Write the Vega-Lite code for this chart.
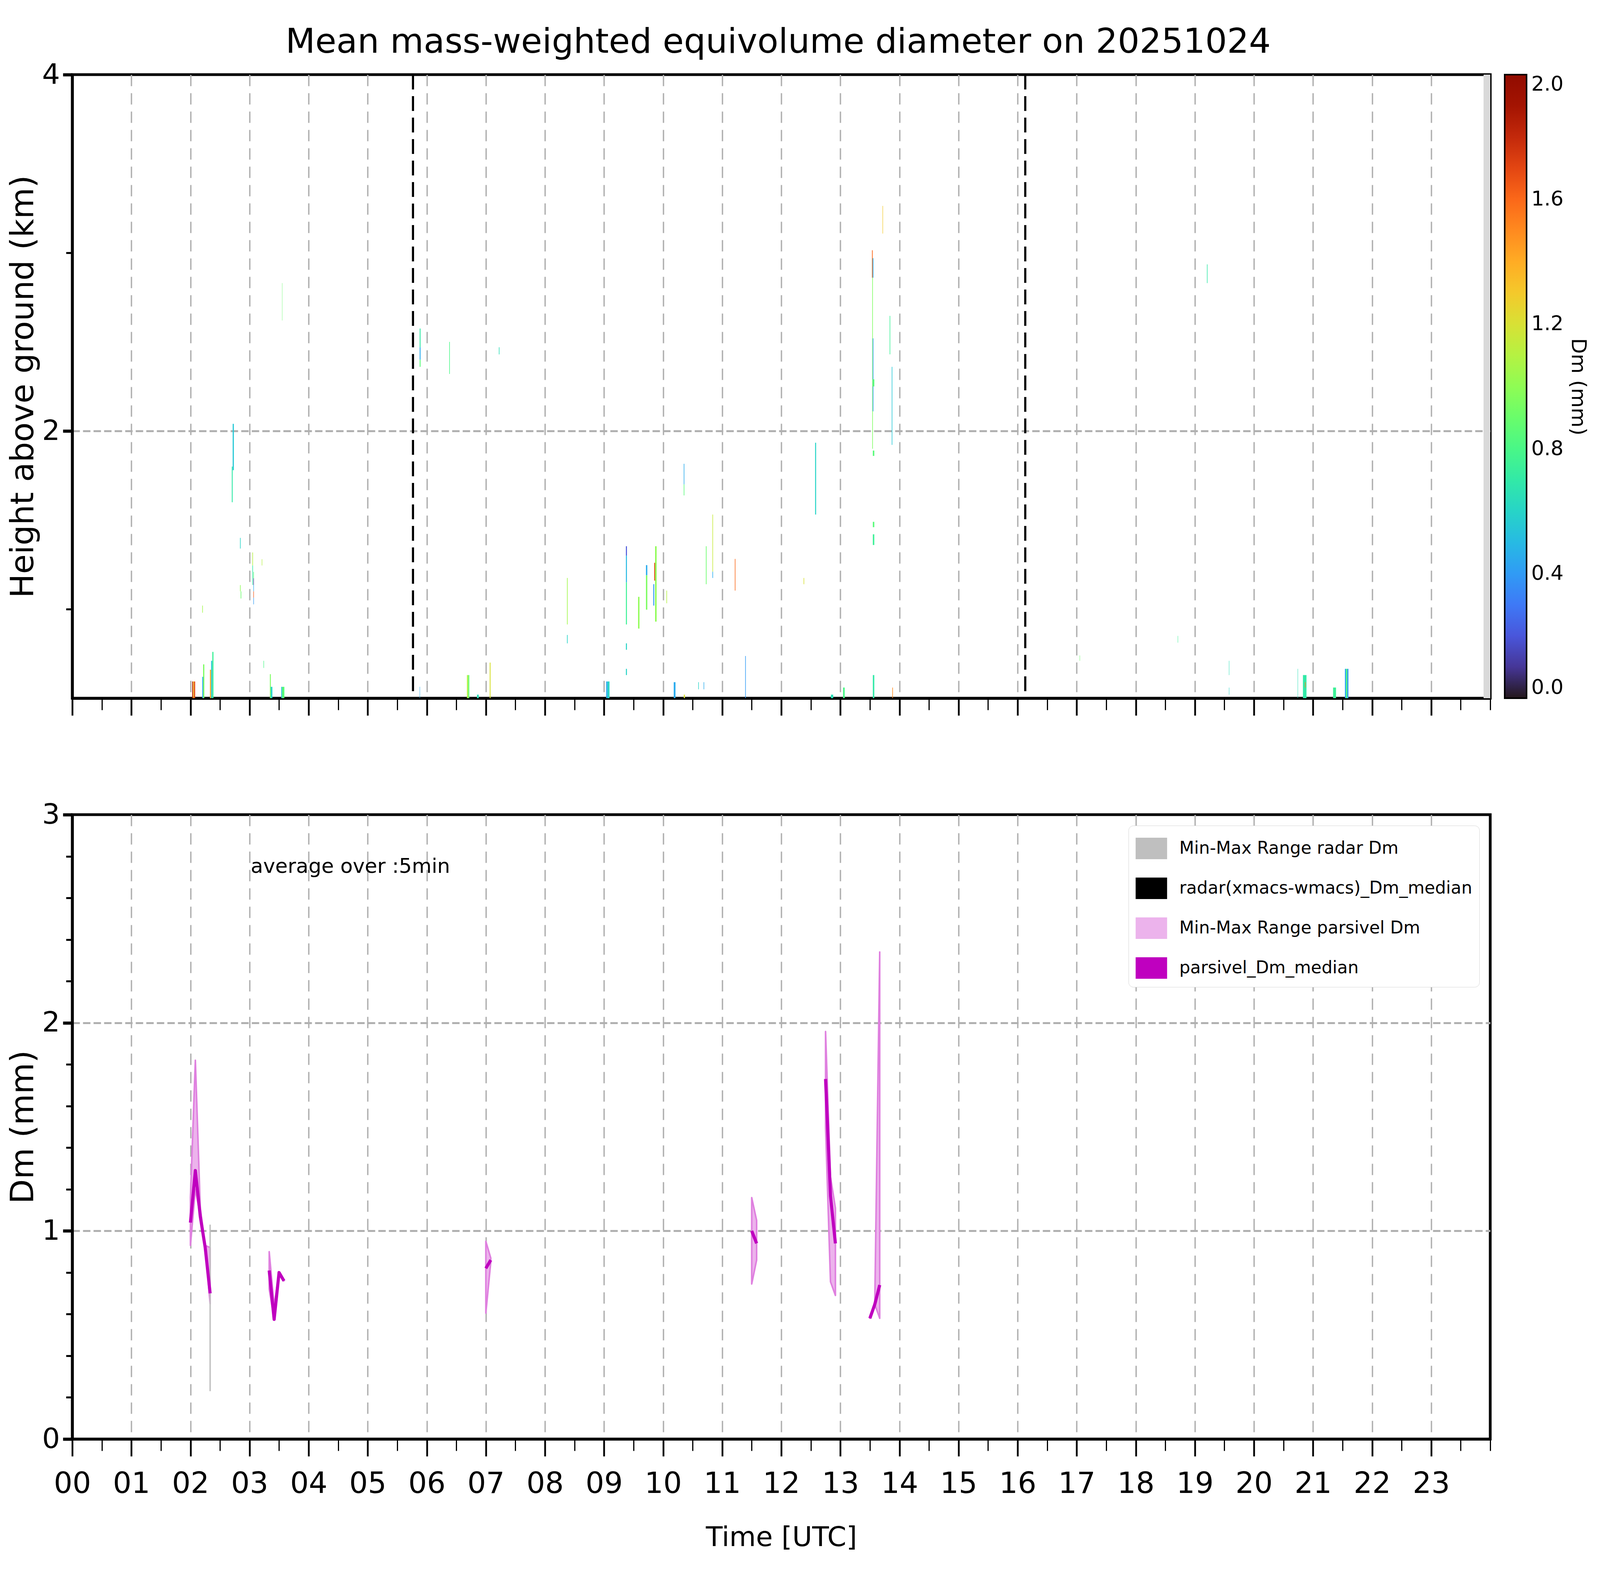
{
  "$schema": "https://vega.github.io/schema/vega-lite/v6.json",
  "background": "white",
  "padding": {"left": 14, "top": 64, "right": 10, "bottom": 0},
  "title": {"text": "Mean mass-weighted equivolume diameter on 20251024", "fontSize": 88, "fontWeight": "normal", "anchor": "middle", "offset": -1, "dx": -50, "color": "black"},
  "datasets": {
    "radar": [
      {"t0": 2.030, "t1": 2.045, "h0": 0.5, "h1": 0.594, "dm": 1.85},
      {"t0": 2.045, "t1": 2.060, "h0": 0.5, "h1": 0.594, "dm": 1.30},
      {"t0": 2.060, "t1": 2.080, "h0": 0.5, "h1": 0.594, "dm": 1.70},
      {"t0": 2.200, "t1": 2.215, "h0": 0.5, "h1": 0.62, "dm": 0.45},
      {"t0": 2.215, "t1": 2.235, "h0": 0.5, "h1": 0.69, "dm": 0.95},
      {"t0": 2.200, "t1": 2.210, "h0": 0.98, "h1": 1.02, "dm": 1.05},
      {"t0": 2.330, "t1": 2.350, "h0": 0.5, "h1": 0.66, "dm": 1.40},
      {"t0": 2.350, "t1": 2.370, "h0": 0.5, "h1": 0.71, "dm": 0.55},
      {"t0": 2.370, "t1": 2.390, "h0": 0.5, "h1": 0.76, "dm": 0.75},
      {"t0": 2.700, "t1": 2.715, "h0": 1.60, "h1": 1.80, "dm": 0.70},
      {"t0": 2.715, "t1": 2.735, "h0": 1.78, "h1": 2.04, "dm": 0.55},
      {"t0": 2.840, "t1": 2.850, "h0": 1.34, "h1": 1.40, "dm": 0.60},
      {"t0": 2.850, "t1": 2.860, "h0": 1.06, "h1": 1.10, "dm": 0.90},
      {"t0": 2.840, "t1": 2.850, "h0": 1.10, "h1": 1.135, "dm": 1.00},
      {"t0": 3.048, "t1": 3.058, "h0": 1.245, "h1": 1.318, "dm": 1.10},
      {"t0": 3.048, "t1": 3.058, "h0": 1.136, "h1": 1.245, "dm": 0.70},
      {"t0": 3.066, "t1": 3.074, "h0": 1.173, "h1": 1.209, "dm": 0.85},
      {"t0": 3.066, "t1": 3.074, "h0": 1.136, "h1": 1.173, "dm": 0.10},
      {"t0": 3.066, "t1": 3.074, "h0": 1.100, "h1": 1.136, "dm": 0.45},
      {"t0": 3.066, "t1": 3.074, "h0": 1.064, "h1": 1.100, "dm": 1.65},
      {"t0": 3.066, "t1": 3.074, "h0": 1.027, "h1": 1.064, "dm": 0.40},
      {"t0": 3.207, "t1": 3.215, "h0": 1.245, "h1": 1.28, "dm": 1.10},
      {"t0": 3.237, "t1": 3.245, "h0": 0.67, "h1": 0.71, "dm": 0.80},
      {"t0": 3.345, "t1": 3.360, "h0": 0.5, "h1": 0.635, "dm": 0.95},
      {"t0": 3.360, "t1": 3.387, "h0": 0.5, "h1": 0.564, "dm": 0.60},
      {"t0": 3.537, "t1": 3.550, "h0": 0.5, "h1": 0.564, "dm": 0.50},
      {"t0": 3.550, "t1": 3.590, "h0": 0.5, "h1": 0.564, "dm": 0.85},
      {"t0": 3.550, "t1": 3.555, "h0": 2.62, "h1": 2.83, "dm": 0.90},
      {"t0": 5.880, "t1": 5.886, "h0": 0.5, "h1": 0.564, "dm": 0.45},
      {"t0": 5.880, "t1": 5.895, "h0": 2.47, "h1": 2.575, "dm": 0.70},
      {"t0": 5.880, "t1": 5.895, "h0": 2.40, "h1": 2.47, "dm": 0.45},
      {"t0": 5.880, "t1": 5.895, "h0": 2.36, "h1": 2.40, "dm": 0.85},
      {"t0": 6.380, "t1": 6.390, "h0": 2.32, "h1": 2.50, "dm": 0.80},
      {"t0": 7.220, "t1": 7.230, "h0": 2.43, "h1": 2.47, "dm": 0.65},
      {"t0": 6.680, "t1": 6.700, "h0": 0.5, "h1": 0.63, "dm": 1.10},
      {"t0": 6.700, "t1": 6.720, "h0": 0.5, "h1": 0.63, "dm": 0.90},
      {"t0": 6.850, "t1": 6.880, "h0": 0.5, "h1": 0.52, "dm": 0.65},
      {"t0": 7.065, "t1": 7.080, "h0": 0.5, "h1": 0.70, "dm": 1.20},
      {"t0": 8.374, "t1": 8.385, "h0": 0.914, "h1": 1.175, "dm": 1.05},
      {"t0": 8.374, "t1": 8.385, "h0": 0.808, "h1": 0.855, "dm": 0.60},
      {"t0": 9.037, "t1": 9.060, "h0": 0.5, "h1": 0.594, "dm": 0.45},
      {"t0": 9.060, "t1": 9.093, "h0": 0.5, "h1": 0.594, "dm": 0.60},
      {"t0": 9.371, "t1": 9.388, "h0": 1.30, "h1": 1.353, "dm": 0.20},
      {"t0": 9.371, "t1": 9.388, "h0": 1.15, "h1": 1.30, "dm": 0.50},
      {"t0": 9.371, "t1": 9.388, "h0": 0.914, "h1": 1.15, "dm": 0.75},
      {"t0": 9.371, "t1": 9.388, "h0": 0.772, "h1": 0.808, "dm": 0.60},
      {"t0": 9.371, "t1": 9.388, "h0": 0.630, "h1": 0.665, "dm": 0.60},
      {"t0": 9.577, "t1": 9.600, "h0": 0.891, "h1": 1.069, "dm": 1.00},
      {"t0": 9.710, "t1": 9.733, "h0": 1.19, "h1": 1.247, "dm": 0.45},
      {"t0": 9.710, "t1": 9.733, "h0": 0.997, "h1": 1.19, "dm": 0.95},
      {"t0": 9.834, "t1": 9.850, "h0": 1.02, "h1": 1.14, "dm": 0.40},
      {"t0": 9.850, "t1": 9.865, "h0": 1.16, "h1": 1.26, "dm": 1.70},
      {"t0": 9.865, "t1": 9.890, "h0": 0.93, "h1": 1.353, "dm": 1.00},
      {"t0": 10.056, "t1": 10.066, "h0": 1.033, "h1": 1.104, "dm": 1.10},
      {"t0": 10.350, "t1": 10.360, "h0": 1.70, "h1": 1.816, "dm": 0.45},
      {"t0": 10.350, "t1": 10.360, "h0": 1.638, "h1": 1.70, "dm": 0.85},
      {"t0": 10.724, "t1": 10.735, "h0": 1.14, "h1": 1.353, "dm": 0.90},
      {"t0": 10.835, "t1": 10.845, "h0": 1.21, "h1": 1.531, "dm": 1.15},
      {"t0": 10.835, "t1": 10.845, "h0": 1.175, "h1": 1.21, "dm": 0.45},
      {"t0": 11.214, "t1": 11.224, "h0": 1.104, "h1": 1.282, "dm": 1.60},
      {"t0": 11.390, "t1": 11.400, "h0": 0.5, "h1": 0.737, "dm": 0.40},
      {"t0": 12.378, "t1": 12.388, "h0": 1.14, "h1": 1.175, "dm": 1.20},
      {"t0": 12.573, "t1": 12.590, "h0": 1.531, "h1": 1.934, "dm": 0.60},
      {"t0": 13.536, "t1": 13.548, "h0": 2.86, "h1": 3.014, "dm": 1.60},
      {"t0": 13.548, "t1": 13.560, "h0": 2.86, "h1": 2.97, "dm": 0.45},
      {"t0": 13.540, "t1": 13.550, "h0": 1.90, "h1": 2.86, "dm": 0.95},
      {"t0": 13.550, "t1": 13.560, "h0": 2.11, "h1": 2.52, "dm": 0.40},
      {"t0": 13.550, "t1": 13.575, "h0": 2.25, "h1": 2.29, "dm": 0.85},
      {"t0": 13.550, "t1": 13.575, "h0": 1.86, "h1": 1.89, "dm": 0.85},
      {"t0": 13.550, "t1": 13.575, "h0": 1.46, "h1": 1.49, "dm": 0.85},
      {"t0": 13.550, "t1": 13.575, "h0": 1.36, "h1": 1.42, "dm": 0.75},
      {"t0": 13.550, "t1": 13.575, "h0": 0.5, "h1": 0.63, "dm": 0.70},
      {"t0": 13.714, "t1": 13.722, "h0": 3.108, "h1": 3.263, "dm": 1.30},
      {"t0": 13.835, "t1": 13.845, "h0": 2.43, "h1": 2.646, "dm": 0.75},
      {"t0": 13.870, "t1": 13.880, "h0": 1.922, "h1": 2.36, "dm": 0.55},
      {"t0": 13.046, "t1": 13.074, "h0": 0.5, "h1": 0.56, "dm": 0.80},
      {"t0": 12.840, "t1": 12.880, "h0": 0.5, "h1": 0.52, "dm": 0.65},
      {"t0": 10.180, "t1": 10.210, "h0": 0.5, "h1": 0.59, "dm": 0.45},
      {"t0": 10.596, "t1": 10.605, "h0": 0.55, "h1": 0.59, "dm": 0.60},
      {"t0": 10.686, "t1": 10.695, "h0": 0.55, "h1": 0.59, "dm": 0.45},
      {"t0": 13.880, "t1": 13.890, "h0": 0.5, "h1": 0.56, "dm": 1.50},
      {"t0": 10.350, "t1": 10.370, "h0": 0.5, "h1": 0.52, "dm": 1.20},
      {"t0": 19.205, "t1": 19.215, "h0": 2.83, "h1": 2.935, "dm": 0.70},
      {"t0": 18.710, "t1": 18.716, "h0": 0.812, "h1": 0.85, "dm": 0.75},
      {"t0": 17.050, "t1": 17.056, "h0": 0.71, "h1": 0.74, "dm": 0.90},
      {"t0": 19.577, "t1": 19.583, "h0": 0.63, "h1": 0.71, "dm": 0.65},
      {"t0": 19.577, "t1": 19.583, "h0": 0.52, "h1": 0.56, "dm": 0.60},
      {"t0": 20.740, "t1": 20.746, "h0": 0.5, "h1": 0.665, "dm": 0.65},
      {"t0": 20.830, "t1": 20.890, "h0": 0.5, "h1": 0.63, "dm": 0.70},
      {"t0": 20.865, "t1": 20.875, "h0": 0.56, "h1": 0.59, "dm": 1.50},
      {"t0": 21.340, "t1": 21.390, "h0": 0.5, "h1": 0.56, "dm": 0.75},
      {"t0": 21.540, "t1": 21.560, "h0": 0.5, "h1": 0.665, "dm": 0.45},
      {"t0": 21.560, "t1": 21.580, "h0": 0.5, "h1": 0.665, "dm": 0.85},
      {"t0": 21.580, "t1": 21.600, "h0": 0.5, "h1": 0.665, "dm": 0.40}
    ],
    "nodata": [{"start": 23.887, "end": 24}],
    "markers": [{"t": 5.767}, {"t": 16.13}],
    "parsivel": [
      {"t": 2.0, "med": 1.04, "min": 0.93, "max": 1.16, "seg": "a"},
      {"t": 2.0833, "med": 1.29, "min": 1.20, "max": 1.82, "seg": "a"},
      {"t": 2.1667, "med": 1.07, "min": 1.07, "max": 1.11, "seg": "a"},
      {"t": 2.25, "med": 0.92, "min": 0.92, "max": 0.93, "seg": "a"},
      {"t": 2.3333, "med": 0.70, "min": 0.65, "max": 0.92, "seg": "a"},
      {"t": 3.3333, "med": 0.81, "min": 0.72, "max": 0.90, "seg": "b"},
      {"t": 3.4167, "med": 0.575, "min": 0.575, "max": 0.64, "seg": "b"},
      {"t": 3.5, "med": 0.80, "min": 0.80, "max": 0.80, "seg": "b"},
      {"t": 3.5833, "med": 0.76, "min": 0.76, "max": 0.76, "seg": "b"},
      {"t": 7.0, "med": 0.82, "min": 0.605, "max": 0.95, "seg": "c"},
      {"t": 7.0833, "med": 0.86, "min": 0.85, "max": 0.87, "seg": "c"},
      {"t": 11.5, "med": 1.00, "min": 0.745, "max": 1.16, "seg": "d"},
      {"t": 11.5833, "med": 0.94, "min": 0.86, "max": 1.05, "seg": "d"},
      {"t": 12.75, "med": 1.73, "min": 1.495, "max": 1.958, "seg": "e"},
      {"t": 12.8333, "med": 1.168, "min": 0.756, "max": 1.26, "seg": "e"},
      {"t": 12.9167, "med": 0.94, "min": 0.69, "max": 1.11, "seg": "e"},
      {"t": 13.5, "med": 0.58, "min": 0.58, "max": 0.58, "seg": "f"},
      {"t": 13.5833, "med": 0.647, "min": 0.647, "max": 0.66, "seg": "f"},
      {"t": 13.6667, "med": 0.74, "min": 0.58, "max": 2.34, "seg": "f"}
    ],
    "radarRange": [{"t": 2.3333, "min": 0.23, "max": 1.03}],
    "notes": [{"note": "average over :5min"}]
  },
  "spacing": 208,
  "resolve": {"scale": {"color": "independent"}, "legend": {"color": "independent"}},
  "vconcat": [
    {
      "width": 3630,
      "height": 1596,
      "layer": [
        {
          "data": {"name": "nodata"},
          "mark": {"type": "rect", "color": "#d9d9d9"},
          "encoding": {
            "x": {"field": "start", "type": "quantitative", "scale": {"domain": [0, 24], "nice": false, "zero": false},
              "axis": {"title": null, "labels": false, "gridDash": [29, 18], "gridWidth": 3.5,
                "values": [0,0.25,0.5,0.75,1,1.25,1.5,1.75,2,2.25,2.5,2.75,3,3.25,3.5,3.75,4,4.25,4.5,4.75,5,5.25,5.5,5.75,6,6.25,6.5,6.75,7,7.25,7.5,7.75,8,8.25,8.5,8.75,9,9.25,9.5,9.75,10,10.25,10.5,10.75,11,11.25,11.5,11.75,12,12.25,12.5,12.75,13,13.25,13.5,13.75,14,14.25,14.5,14.75,15,15.25,15.5,15.75,16,16.25,16.5,16.75,17,17.25,17.5,17.75,18,18.25,18.5,18.75,19,19.25,19.5,19.75,20,20.25,20.5,20.75,21,21.25,21.5,21.75,22,22.25,22.5,22.75,23,23.25,23.5,23.75,24],
                "tickSize": {"condition": {"test": "datum.value % 1 === 0 && datum.value < 24", "value": 44}, "value": 30},
                "tickWidth": {"condition": {"test": "datum.value % 1 === 0 && datum.value < 24", "value": 4.5}, "value": 3},
                "gridOpacity": {"condition": {"test": "datum.value % 1 === 0 && datum.value > 0 && datum.value < 24", "value": 1}, "value": 0}
              }
            },
            "x2": {"field": "end"}
          }
        },
        {
          "data": {"name": "radar"},
          "mark": {"type": "rect", "strokeWidth": 0},
          "encoding": {
            "x": {"field": "t0", "type": "quantitative"},
            "x2": {"field": "t1"},
            "y": {"field": "h0", "type": "quantitative", "scale": {"domain": [0.5, 4], "nice": false, "zero": false},
              "axis": {"title": "Height above ground (km)", "titleFontSize": 82, "labelFontSize": 72, "values": [1, 2, 3, 4], "gridDash": [19, 8], "gridWidth": 5,
                "labelExpr": "datum.value % 2 === 0 ? format(datum.value, 'd') : ''",
                "tickSize": {"condition": {"test": "datum.value % 2 === 0", "value": 24}, "value": 16},
                "tickWidth": {"condition": {"test": "datum.value % 2 === 0", "value": 8}, "value": 5},
                "gridOpacity": {"condition": {"test": "datum.value === 2", "value": 1}, "value": 0},
                "labelPadding": 8, "titlePadding": 6, "labelOverlap": false}
            },
            "y2": {"field": "h1"},
            "color": {"field": "dm", "type": "quantitative",
              "scale": {"scheme": "turbo", "domain": [0, 2], "clamp": true},
              "legend": {"title": "Dm (mm)", "orient": "right", "offset": 37, "direction": "vertical",
                "gradientLength": 1596, "gradientThickness": 56, "gradientStrokeColor": "black", "gradientStrokeWidth": 4,
                "values": [0, 0.4, 0.8, 1.2, 1.6, 2.0], "format": ".1f", "labelFontSize": 52, "labelOffset": 12,
                "labelBaseline": "middle", "labelOverlap": false, "labelColor": "black",
                "titleOrient": "right", "titleFontSize": 52, "titleFontWeight": "normal", "titleAnchor": "middle",
                "titleLimit": 2000, "titlePadding": 10, "titleColor": "black", "padding": 0}
            }
          }
        },
        {
          "data": {"name": "markers"},
          "mark": {"type": "rule", "color": "black", "strokeWidth": 5.5, "strokeDash": [38, 17]},
          "encoding": {"x": {"field": "t", "type": "quantitative"}}
        }
      ]
    },
    {
      "width": 3630,
      "height": 1598,
      "layer": [
        {
          "data": {"name": "parsivel"},
          "mark": {"type": "area", "stroke": "#df80df", "strokeWidth": 4, "strokeJoin": "round"},
          "encoding": {
            "x": {"field": "t", "type": "quantitative", "scale": {"domain": [0, 24], "nice": false, "zero": false},
              "axis": {"title": "Time [UTC]", "gridDash": [29, 18], "gridWidth": 3.5,
                "values": [0,0.25,0.5,0.75,1,1.25,1.5,1.75,2,2.25,2.5,2.75,3,3.25,3.5,3.75,4,4.25,4.5,4.75,5,5.25,5.5,5.75,6,6.25,6.5,6.75,7,7.25,7.5,7.75,8,8.25,8.5,8.75,9,9.25,9.5,9.75,10,10.25,10.5,10.75,11,11.25,11.5,11.75,12,12.25,12.5,12.75,13,13.25,13.5,13.75,14,14.25,14.5,14.75,15,15.25,15.5,15.75,16,16.25,16.5,16.75,17,17.25,17.5,17.75,18,18.25,18.5,18.75,19,19.25,19.5,19.75,20,20.25,20.5,20.75,21,21.25,21.5,21.75,22,22.25,22.5,22.75,23,23.25,23.5,23.75,24],
                "labelExpr": "datum.value % 1 === 0 && datum.value < 24 ? (datum.value < 10 ? '0' : '') + format(datum.value, 'd') : ''",
                "tickSize": {"condition": {"test": "datum.value % 1 === 0 && datum.value < 24", "value": 44}, "value": 30},
                "tickWidth": {"condition": {"test": "datum.value % 1 === 0 && datum.value < 24", "value": 4.5}, "value": 3},
                "gridOpacity": {"condition": {"test": "datum.value % 1 === 0 && datum.value > 0 && datum.value < 24", "value": 1}, "value": 0},
                "labelPadding": 34, "titlePadding": 66, "labelOverlap": false, "labelFlush": false}
            },
            "y": {"field": "min", "type": "quantitative", "scale": {"domain": [0, 3], "nice": false},
              "axis": {"title": "Dm (mm)", "titleFontSize": 82, "labelFontSize": 72, "values": [0,0.2,0.4,0.6,0.8,1,1.2,1.4,1.6,1.8,2,2.2,2.4,2.6,2.8,3], "gridDash": [19, 8], "gridWidth": 5,
                "labelExpr": "datum.value % 1 === 0 ? format(datum.value, 'd') : ''",
                "tickSize": {"condition": {"test": "datum.value % 1 === 0", "value": 24}, "value": 16},
                "tickWidth": {"condition": {"test": "datum.value % 1 === 0", "value": 8}, "value": 5},
                "gridOpacity": {"condition": {"test": "datum.value === 1 || datum.value === 2", "value": 1}, "value": 0},
                "labelPadding": 8, "titlePadding": 6, "labelOverlap": false}
            },
            "y2": {"field": "max"},
            "detail": {"field": "seg", "type": "nominal"},
            "color": {"datum": "Min-Max Range parsivel Dm", "type": "nominal",
              "scale": {"domain": ["Min-Max Range radar Dm", "radar(xmacs-wmacs)_Dm_median", "Min-Max Range parsivel Dm", "parsivel_Dm_median"],
                "range": ["#bfbfbf", "#000000", "#ecb3ec", "#bf00bf"]},
              "legend": {"title": null, "orient": "top-right", "offset": 28, "labelFontSize": 44, "labelLimit": 3000,
                "labelColor": "black", "symbolSize": 6241, "symbolType": "M-1,-0.68H1V0.68H-1Z", "symbolOpacity": 1,
                "labelOffset": 31, "rowPadding": 31, "padding": 18,
                "fillColor": "white", "strokeColor": "#d5d5d5", "cornerRadius": 12}
            }
          }
        },
        {
          "data": {"name": "radarRange"},
          "mark": {"type": "rule", "strokeWidth": 3.5},
          "encoding": {
            "x": {"field": "t", "type": "quantitative"},
            "y": {"field": "min", "type": "quantitative"},
            "y2": {"field": "max"},
            "color": {"datum": "Min-Max Range radar Dm", "type": "nominal"}
          }
        },
        {
          "data": {"name": "parsivel"},
          "mark": {"type": "line", "strokeWidth": 8, "strokeJoin": "round"},
          "encoding": {
            "x": {"field": "t", "type": "quantitative"},
            "y": {"field": "med", "type": "quantitative"},
            "detail": {"field": "seg", "type": "nominal"},
            "color": {"datum": "parsivel_Dm_median", "type": "nominal"}
          }
        },
        {
          "data": {"name": "notes"},
          "mark": {"type": "text", "fontSize": 52, "align": "left", "baseline": "alphabetic", "color": "black"},
          "encoding": {
            "x": {"datum": 3.02, "type": "quantitative"},
            "y": {"datum": 2.72, "type": "quantitative"},
            "text": {"field": "note"}
          }
        }
      ]
    }
  ],
  "config": {
    "font": "DejaVu Sans",
    "view": {"stroke": "black", "strokeWidth": 7},
    "axis": {"labelFont": "DejaVu Sans", "titleFont": "DejaVu Sans", "labelFontSize": 75, "titleFontSize": 70,
      "titleFontWeight": "normal", "domainColor": "black", "domainWidth": 7, "tickColor": "black",
      "gridColor": "#b0b0b0", "labelColor": "black", "titleColor": "black"},
    "legend": {"labelFont": "DejaVu Sans", "titleFont": "DejaVu Sans"},
    "title": {"font": "DejaVu Sans"},
    "text": {"font": "DejaVu Sans"}
  }
}
